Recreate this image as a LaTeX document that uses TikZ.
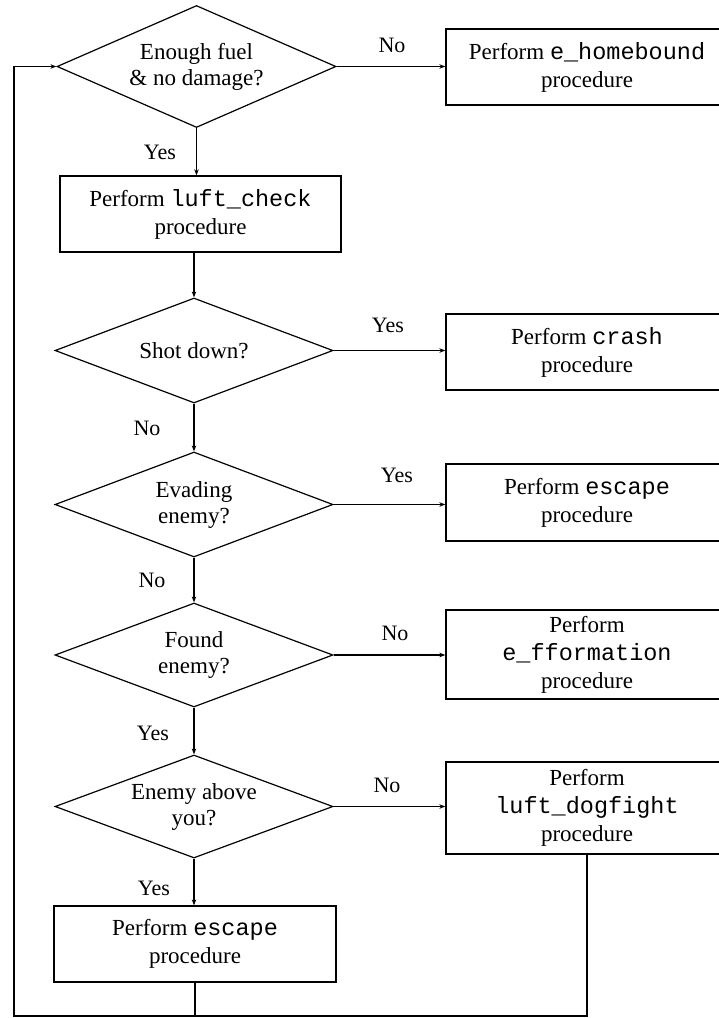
\documentclass[tikz,border=0pt]{standalone}
\usepackage{fontspec}
\setmainfont{Liberation Serif}
\setmonofont{Liberation Mono}
\usetikzlibrary{shapes.geometric,arrows.meta}
\newcommand{\code}[1]{{\fontsize{23.5}{28}\selectfont\ttfamily #1}}
\tikzset{
  dec/.style={draw, diamond, aspect=2.6, inner sep=0pt, line width=1.2pt, align=center,
    font=\fontsize{23}{26}\selectfont},
  proc/.style={draw, rectangle, inner sep=0pt, line width=1.3pt, align=center,
    minimum width=282pt, font=\fontsize{23}{28}\selectfont},
  lbl/.style={inner sep=0pt, font=\fontsize{22}{24}\selectfont},
  conn/.style={line width=1.3pt},
  arr/.style={conn, -{Stealth[length=6pt,width=4.5pt]}}
}
\begin{document}
\begin{tikzpicture}[x=1pt,y=-1pt]
\useasboundingbox (0,0) rectangle (719,1018);
\clip (0,0) rectangle (719,1018);
% decisions
\node[dec, minimum width=279pt, minimum height=122pt] (d1) at (196.5,66.5) {Enough fuel\\\& no damage?};
\node[dec, minimum width=278pt, minimum height=105pt] (d2) at (194,350.5) {Shot down?};
\node[dec, minimum width=278pt, minimum height=105pt] (d3) at (194,504.5) {Evading\\enemy?};
\node[dec, minimum width=278pt, minimum height=104pt] (d4) at (194,655) {Found\\enemy?};
\node[dec, minimum width=278pt, minimum height=103pt] (d5) at (194,806.5) {Enemy above\\you?};
% processes
\node[proc, minimum height=76pt] (hb) at (587,67) {Perform \code{e\_homebound}\\procedure};
\node[proc, minimum width=281pt, minimum height=76pt] (lc) at (200.5,214) {Perform \code{luft\_check}\\procedure};
\node[proc, minimum height=76pt] (cr) at (587,352) {Perform \code{crash}\\procedure};
\node[proc, minimum height=77pt] (es1) at (587,502.5) {Perform \code{escape}\\procedure};
\node[proc, minimum height=89pt] (ff) at (587,654.5) {Perform\\\code{e\_fformation}\\procedure};
\node[proc, minimum height=92pt] (df) at (587,808) {Perform\\\code{luft\_dogfight}\\procedure};
\node[proc, minimum height=76pt] (es2) at (195,944) {Perform \code{escape}\\procedure};
% labels
\node[lbl] (l1) at (392,45) {No};
\node[lbl] (l2) at (160,152) {Yes};
\node[lbl] (l3) at (388,325) {Yes};
\node[lbl] (l4) at (147,428) {No};
\node[lbl] (l5) at (397,475) {Yes};
\node[lbl] (l6) at (152,580) {No};
\node[lbl] (l7) at (395,633) {No};
\node[lbl] (l8) at (153,733) {Yes};
\node[lbl] (l9) at (387,785) {No};
\node[lbl] (l10) at (154,888) {Yes};
% connectors
\draw[arr] (d1.east) -- (d1.east -| hb.west);
\draw[arr] (d1.south) -- (d1.south |- lc.north);
\draw[arr] (lc.south -| d2.north) -- (d2.north);
\draw[arr] (d2.east) -- (d2.east -| cr.west);
\draw[arr] (d2.south) -- (d3.north);
\draw[arr] (d3.east) -- (d3.east -| es1.west);
\draw[arr] (d3.south) -- (d4.north);
\draw[arr] (d4.east) -- (d4.east -| ff.west);
\draw[arr] (d4.south) -- (d5.north);
\draw[arr] (d5.east) -- (d5.east -| df.west);
\draw[arr] (d5.south) -- (d5.south |- es2.north);
% loop back
\coordinate (bl) at (14,1016);
\draw[conn] (es2.south) -- (es2.south |- bl);
\draw[arr] (df.south) -- (df.south |- bl) -- (bl) -- (bl |- d1.west) -- (d1.west);
\end{tikzpicture}
\end{document}
